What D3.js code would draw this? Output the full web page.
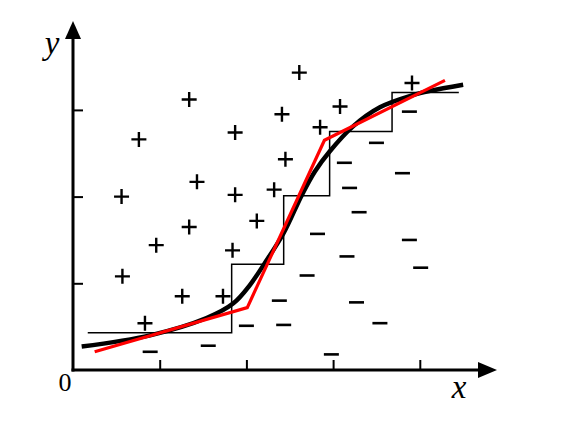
<!doctype html>
<html>
  <head>
    <script src="https://cdnjs.cloudflare.com/ajax/libs/d3/7.8.5/d3.min.js"></script>
    <style>
      body { margin: 0; background: #fff; }
    </style>
  </head>
  <body>
    <svg></svg>
    <script>
      var width = 569,
          height = 446;

      // positive samples (x, y)
      var plusPts = [
        [2.61, 3.43], [1.34, 3.12], [3.91, 3.31], [0.76, 2.66], [1.87, 2.74],
        [2.41, 2.95], [3.08, 3.04], [2.85, 2.80], [2.45, 2.43], [0.56, 2.00],
        [1.43, 2.17], [1.87, 2.02], [2.32, 2.08], [0.96, 1.44], [1.34, 1.65],
        [2.12, 1.72], [1.84, 1.38], [0.57, 1.08], [1.26, 0.85], [1.73, 0.85],
        [0.83, 0.54]
      ];
      // negative samples
      var minusPts = [
        [0.89, 0.21], [1.56, 0.28], [2.00, 0.51], [2.43, 0.52], [2.38, 0.80],
        [2.70, 1.09], [2.82, 1.57], [2.98, 0.18], [3.27, 0.78], [3.16, 1.31],
        [3.54, 0.54], [3.30, 1.82], [3.19, 2.10], [3.13, 2.39], [3.50, 2.62],
        [3.80, 2.27], [3.88, 1.50], [4.01, 1.18], [3.88, 2.98]
      ];
      // smooth fit
      var smoothCurve = [
        [0.10, 0.27], [0.89, 0.40], [1.54, 0.60], [1.85, 0.77], [2.04, 0.98],
        [2.21, 1.23], [2.43, 1.58], [2.64, 2.02], [2.79, 2.29], [2.96, 2.52],
        [3.23, 2.81], [3.54, 3.03], [3.92, 3.17], [4.12, 3.22], [4.50, 3.29]
      ];
      // step function: breakpoints and levels
      var stepX = [0.17, 1.83, 2.43, 2.96, 3.68, 4.45];
      var stepY = [0.43, 1.22, 2.01, 2.75, 3.20];
      // piecewise linear fit
      var redLine = [[0.25, 0.21], [2.01, 0.72], [2.90, 2.65], [4.29, 3.34]];
      var xTicks = [1, 2, 3, 4];
      var yTicks = [1, 2, 3];

      var x = d3.scaleLinear().domain([0, 4]).range([73, 419.8]);
      var y = d3.scaleLinear().domain([0, 3]).range([370, 109.9]);

      var svg = d3.select("svg").attr("width", width).attr("height", height);

      // step function
      var stepPts = [];
      stepY.forEach(function(v, i) {
        stepPts.push([stepX[i], v]);
        stepPts.push([stepX[i + 1], v]);
      });
      svg.append("path")
        .datum(stepPts)
        .attr("d", d3.line().x(function(d){ return x(d[0]); }).y(function(d){ return y(d[1]); }))
        .style("fill", "none")
        .style("stroke", "#000")
        .style("stroke-width", 1.5);

      // markers
      var s = 7.5;
      svg.selectAll("path.plus").data(plusPts)
        .enter().append("path")
          .attr("class", "plus")
          .attr("d", function(d) {
            var cx = x(d[0]), cy = y(d[1]);
            return "M" + (cx - s) + "," + cy + "H" + (cx + s) + "M" + cx + "," + (cy - s) + "V" + (cy + s);
          })
          .style("stroke", "#000")
          .style("stroke-width", 2.4);
      svg.selectAll("path.minus").data(minusPts)
        .enter().append("path")
          .attr("class", "minus")
          .attr("d", function(d) {
            var cx = x(d[0]), cy = y(d[1]);
            return "M" + (cx - s) + "," + cy + "H" + (cx + s);
          })
          .style("stroke", "#000")
          .style("stroke-width", 2.6);

      // smooth black curve
      svg.append("path")
        .datum(smoothCurve)
        .attr("d", d3.line().curve(d3.curveCatmullRom)
          .x(function(d){ return x(d[0]); }).y(function(d){ return y(d[1]); }))
        .style("fill", "none")
        .style("stroke", "#000")
        .style("stroke-width", 4.5)
        .style("stroke-linecap", "butt");

      // red line
      svg.append("path")
        .datum(redLine)
        .attr("d", d3.line().x(function(d){ return x(d[0]); }).y(function(d){ return y(d[1]); }))
        .style("fill", "none")
        .style("stroke", "#f00")
        .style("stroke-width", 3.2);

      // axes
      svg.append("g").attr("transform", "translate(0," + y(0) + ")")
        .call(d3.axisBottom(x).tickValues(xTicks).tickSizeInner(-10).tickSizeOuter(0).tickFormat(""));
      svg.append("g").attr("transform", "translate(" + x(0) + ",0)")
        .call(d3.axisLeft(y).tickValues(yTicks).tickSizeInner(-10).tickSizeOuter(0).tickFormat(""));
      svg.selectAll(".domain").remove();
      svg.selectAll(".tick line").style("stroke", "#000").style("stroke-width", 2);

      svg.append("line")
        .attr("x1", x(0) - 1.5).attr("x2", 480).attr("y1", y(0)).attr("y2", y(0))
        .style("stroke", "#000").style("stroke-width", 3);
      svg.append("line")
        .attr("x1", x(0)).attr("x2", x(0)).attr("y1", y(0) + 1.5).attr("y2", 37)
        .style("stroke", "#000").style("stroke-width", 3);
      svg.append("path")
        .attr("d", "M478," + (y(0) - 8) + "L497," + y(0) + "L478," + (y(0) + 8) + "Z")
        .style("fill", "#000");
      svg.append("path")
        .attr("d", "M" + (x(0) - 8) + ",39L" + x(0) + ",21L" + (x(0) + 8) + ",39Z")
        .style("fill", "#000");

      // labels
      svg.append("text").attr("x", 459).attr("y", 398).attr("text-anchor", "middle")
        .style("font-family", "'Liberation Serif', serif").style("font-style", "italic")
        .style("font-size", "33px").text("x");
      svg.append("text").attr("x", 52).attr("y", 54).attr("text-anchor", "middle")
        .style("font-family", "'Liberation Serif', serif").style("font-style", "italic")
        .style("font-size", "33px").text("y");
      svg.append("text").attr("x", 65).attr("y", 391).attr("text-anchor", "middle")
        .style("font-family", "'Liberation Serif', serif")
        .style("font-size", "26px").text("0");
    </script>
  </body>
</html>
